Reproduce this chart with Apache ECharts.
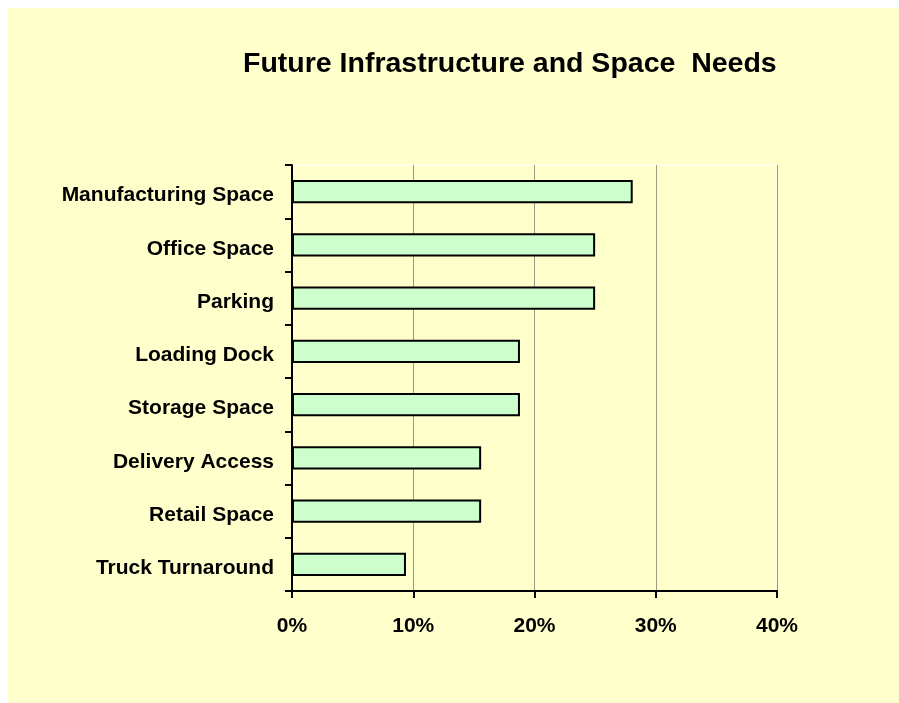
<!DOCTYPE html>
<html>
<head>
<meta charset="utf-8">
<script src="https://cdn.jsdelivr.net/npm/echarts@6/dist/echarts.min.js"></script>
<style>
  html, body { margin: 0; padding: 0; background: #ffffff; }
  #frame { position: absolute; left: 0; top: 0; width: 899px; height: 703px; }
  #panel { position: absolute; left: 8px; top: 8px; right: 0; bottom: 0; background: #FFFFCC; }
  #chart { position: absolute; left: 0; top: 0; width: 899px; height: 703px; }
</style>
</head>
<body>
<div id="frame">
  <div id="panel"></div>
  <div id="chart"></div>
</div>
<script>
// Share of respondents naming each future need (percent)
const categories = [
  'Manufacturing Space',
  'Office Space',
  'Parking',
  'Loading Dock',
  'Storage Space',
  'Delivery Access',
  'Retail Space',
  'Truck Turnaround'
];
const shares = [28.1, 25.0, 25.0, 18.8, 18.8, 15.6, 15.6, 9.4];

// Percent axis range and step
const axisMin = 0;
const axisMax = 40;
const axisStep = 10;

const titleText = 'Future Infrastructure and Space  Needs';

const chart = echarts.init(document.getElementById('chart'), null, { renderer: 'canvas' });

const fontFamily = '"Liberation Sans", Arial, Helvetica, sans-serif';

chart.setOption({
  backgroundColor: 'transparent',
  animation: false,
  title: {
    text: titleText,
    left: 243,
    top: 50,
    padding: 0,
    textStyle: {
      fontFamily: fontFamily,
      fontWeight: 'bold',
      fontSize: 28.5,
      color: '#000000'
    }
  },
  grid: {
    left: 292,
    right: 122,
    top: 165,
    bottom: 112,
    containLabel: false,
    show: true,
    backgroundColor: 'transparent',
    borderColor: '#ffffff',
    borderWidth: 1
  },
  xAxis: {
    type: 'value',
    min: axisMin,
    max: axisMax,
    interval: axisStep,
    axisLine: { show: true, lineStyle: { color: '#000000', width: 2 } },
    axisTick: { show: true, length: 7, lineStyle: { color: '#000000', width: 2 } },
    splitLine: { show: true, lineStyle: { color: '#9a9a86', width: 1 } },
    axisLabel: {
      margin: 25,
      formatter: '{value}%',
      fontFamily: fontFamily,
      fontWeight: 'bold',
      fontSize: 21,
      color: '#000000'
    }
  },
  yAxis: {
    type: 'category',
    data: categories,
    inverse: true,
    axisLine: { show: true, lineStyle: { color: '#000000', width: 2 } },
    axisTick: { show: true, length: 7, lineStyle: { color: '#000000', width: 2 } },
    splitLine: { show: false },
    axisLabel: {
      margin: 18,
      verticalAlign: 'top',
      lineHeight: 8,
      fontFamily: fontFamily,
      fontWeight: 'bold',
      fontSize: 21,
      color: '#000000'
    }
  },
  series: [{
    type: 'bar',
    data: shares,
    barWidth: '44%',
    itemStyle: {
      color: '#CCFFCC',
      borderColor: '#000000',
      borderWidth: 2
    }
  }]
});
</script>
</body>
</html>
